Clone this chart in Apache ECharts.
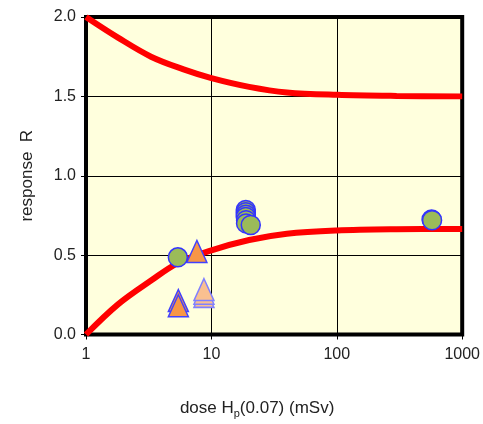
<!DOCTYPE html>
<html><head><meta charset="utf-8">
<script src="https://cdn.jsdelivr.net/npm/echarts@6/dist/echarts.min.js"></script>
<style>html,body{margin:0;padding:0;background:#fff}#c{width:483px;height:424px}</style>
</head><body><div id="c"></div>
<script>
// Model curves: dose (mSv) -> response
var upperX = [1, 1.8, 3.3, 6, 10, 20, 40, 100, 300, 1000];
var upperY = [2.0, 1.87, 1.75, 1.67, 1.615, 1.56, 1.525, 1.51, 1.503, 1.50];
var lowerX = [1, 1.8, 3.3, 5.4, 10, 20, 40, 100, 300, 1000];
var lowerY = [0, 0.19, 0.34, 0.45, 0.53, 0.595, 0.635, 0.655, 0.663, 0.665];
// Measured points
var circX = [5.4, 18.8, 18.8, 18.8, 18.8, 18.9, 18.9, 20.6, 570, 575];
var circY = [0.486, 0.785, 0.77, 0.755, 0.74, 0.72, 0.70, 0.69, 0.725, 0.72];
var triX = [7.66, 5.45, 5.45];
var triY = [0.523, 0.214, 0.181];
var triLightX = [8.72, 8.72, 8.72];
var triLightY = [0.24, 0.26, 0.283];
var xTicks = [1, 10, 100, 1000];
var yTicks = [0, 0.5, 1.0, 1.5, 2.0];

function pairs(xs, ys){ return xs.map(function(x,i){ return [x, ys[i]]; }); }

var chart = echarts.init(document.getElementById('c'), null, {renderer:'canvas'});
var font = '"Liberation Sans", Arial, sans-serif';
chart.setOption({
  animation: false,
  grid: {left: 86, right: 14, top: 17, bottom: 87, show: true,
         backgroundColor: '#FFFFDD', borderColor: '#000', borderWidth: 4},
  xAxis: {
    type: 'log', logBase: 10, min: xTicks[0], max: xTicks[xTicks.length-1],
    name: '{a|dose H}{s|p}{a|(0.07) (mSv)}',
    nameLocation: 'middle', nameGap: 63,
    nameTextStyle: {padding: [0, 34, 0, 0], rich: {
      a: {fontFamily: font, fontSize: 17, color: '#222', lineHeight: 22},
      s: {fontFamily: font, fontSize: 11, color: '#222', lineHeight: 22, padding: [10, 0, 0, 0]}
    }},
    axisLine: {show: true, lineStyle: {color: '#000', width: 1}},
    axisTick: {show: true, length: 5, lineStyle: {color: '#000', width: 1}},
    minorTick: {show: false},
    axisLabel: {fontFamily: font, fontSize: 16, color: '#222', margin: 12,
      formatter: function(v){ return String(Math.round(v)); }},
    splitLine: {show: true, lineStyle: {color: '#000', width: 1}}
  },
  yAxis: {
    type: 'value', min: yTicks[0], max: yTicks[yTicks.length-1], interval: 0.5,
    name: 'response  R', nameLocation: 'middle', nameGap: 50, nameRotate: 90,
    nameTextStyle: {fontFamily: font, fontSize: 17, color: '#222'},
    axisLine: {show: true, lineStyle: {color: '#000', width: 1}},
    axisTick: {show: true, length: 5, lineStyle: {color: '#000', width: 1}},
    axisLabel: {fontFamily: font, fontSize: 16, color: '#222', margin: 10,
      formatter: function(v){ return v.toFixed(1); }},
    splitLine: {show: true, lineStyle: {color: '#000', width: 1}}
  },
  series: [
    {type: 'line', data: pairs(upperX, upperY), smooth: 0.35, showSymbol: false,
     lineStyle: {color: '#FF0000', width: 6}, z: 3},
    {type: 'line', data: pairs(lowerX, lowerY), smooth: 0.35, showSymbol: false,
     lineStyle: {color: '#FF0000', width: 6}, z: 3},
    {type: 'scatter', data: pairs(triLightX, triLightY), symbol: 'triangle', symbolSize: [20, 22],
     itemStyle: {color: '#FAC090', borderColor: '#8080FF', borderWidth: 1.5, opacity: 1}, z: 4},
    {type: 'scatter', data: pairs(triX, triY), symbol: 'triangle', symbolSize: [20, 22],
     itemStyle: {color: '#F79646', borderColor: '#4040FF', borderWidth: 1.5, opacity: 1}, z: 4},
    {type: 'scatter', data: pairs(circX, circY), symbol: 'circle', symbolSize: 19,
     itemStyle: {color: '#9BBB59', borderColor: '#3333FF', borderWidth: 1.5, opacity: 1}, z: 5}
  ]
});
</script></body></html>
